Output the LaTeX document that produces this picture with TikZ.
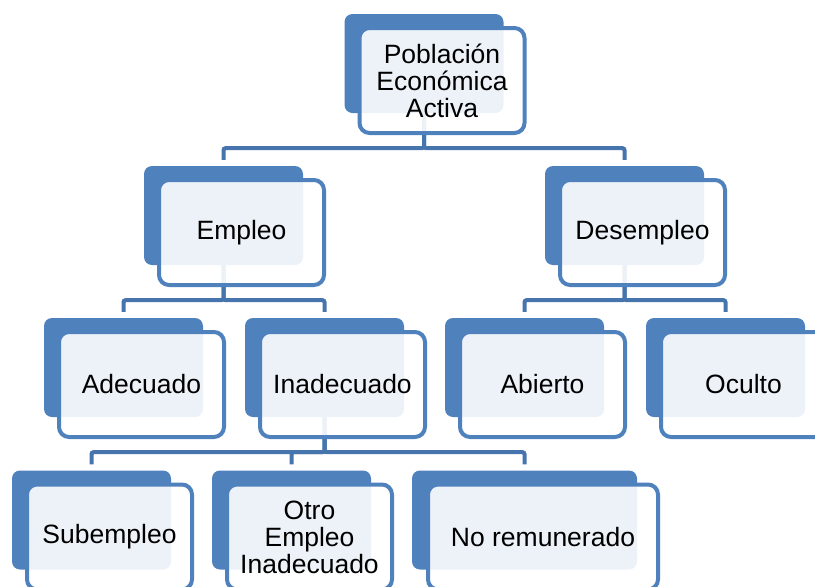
\documentclass[tikz,border=0pt]{standalone}
\usepackage{fontspec}
\setmainfont{Liberation Sans}
\usepackage{tikz}
\usetikzlibrary{backgrounds}
\definecolor{boxblue}{RGB}{79,129,189}
\definecolor{lineblue}{RGB}{70,116,172}

\begin{document}
\begin{tikzpicture}[x=1pt, y=1pt,
    backbox/.style = {fill=boxblue, rounded corners=8pt, minimum width=159pt, minimum height=99pt, inner sep=0pt},
    main/.style = {draw=boxblue, line width=4pt, fill=white, fill opacity=0.9, text opacity=1, rounded corners=10pt,
                   minimum width=165pt, minimum height=105pt, inner sep=0pt, align=center,
                   font=\fontsize{26.5}{27}\selectfont},
    link/.style = {draw=lineblue, line width=4pt, rounded corners=2pt, shorten >=6pt}]
    \path[use as bounding box] (0,0) rectangle (815,-587);

    \node[backbox] (pea) at (424,-63.5) {};
    \node[main] (peat) at ([shift={(18,-17)}]pea.center) {Población\\Económica\\Activa};

    \node[backbox] (emp) at ([shift={(-200.5,-152)}]pea.center) {};
    \node[main] (empt) at ([shift={(18,-17)}]emp.center) {Empleo};
    \node[backbox] (des) at ([shift={(200.5,-152)}]pea.center) {};
    \node[main] (dest) at ([shift={(18,-17)}]des.center) {Desempleo};

    \node[backbox] (ade) at ([shift={(-100,-152)}]emp.center) {};
    \node[main] (adet) at ([shift={(18,-17)}]ade.center) {Adecuado};
    \node[backbox] (ina) at ([shift={(101,-152)}]emp.center) {};
    \node[main] (inat) at ([shift={(18,-17)}]ina.center) {Inadecuado};
    \node[backbox] (abi) at ([shift={(-100,-152)}]des.center) {};
    \node[main] (abit) at ([shift={(18,-17)}]abi.center) {Abierto};
    \node[backbox] (ocu) at ([shift={(101,-152)}]des.center) {};
    \node[main] (ocut) at ([shift={(18,-17)}]ocu.center) {Oculto};

    \node[backbox] (sub) at ([shift={(-233,-152.5)}]ina.center) {};
    \node[main] (subt) at ([shift={(18,-17)}]sub.center) {Subempleo};
    \node[backbox] (otro) at ([shift={(-33,-152.5)}]ina.center) {};
    \node[main] (otrot) at ([shift={(18,-17)}]otro.center) {Otro\\Empleo\\Inadecuado};
    \node[backbox, minimum width=225pt] (nore) at ([shift={(200,-152.5)}]ina.center) {};
    \node[main, minimum width=230pt] (noret) at ([shift={(18.5,-17)}]nore.center) {No remunerado};

    \begin{scope}[on background layer]
    \draw[link] (pea.south) -- ++(0,-35) -| (emp.north);
    \draw[link] (pea.south) -- ++(0,-35) -| (des.north);

    \draw[link] (emp.south) -- ++(0,-35) -| (ade.north);
    \draw[link] (emp.south) -- ++(0,-35) -| (ina.north);
    \draw[link] (des.south) -- ++(0,-35) -| (abi.north);
    \draw[link] (des.south) -- ++(0,-35) -| (ocu.north);

    \draw[link] (ina.south) -- ++(0,-35) -| (sub.north);
    \draw[link] (ina.south) -- ++(0,-35) -| (otro.north);
    \draw[link] (ina.south) -- ++(0,-35) -| (nore.north);
    \end{scope}
\end{tikzpicture}
\end{document}
